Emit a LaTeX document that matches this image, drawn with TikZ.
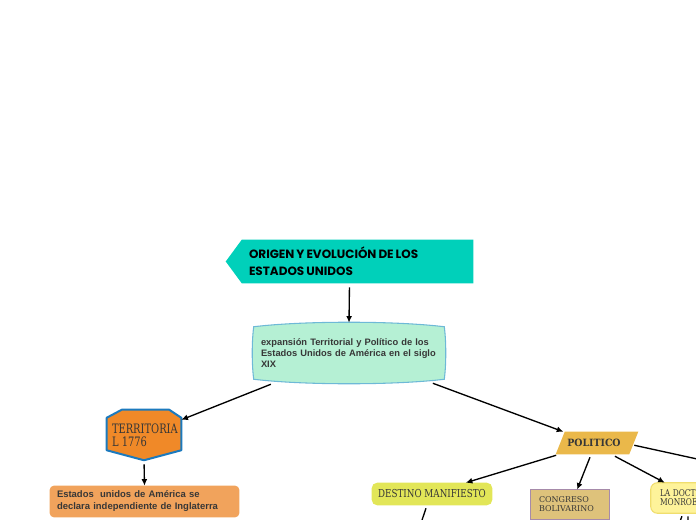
\documentclass[tikz,border=0pt]{standalone}
\usepackage{graphicx}
\usepackage{fontspec}
\setmainfont{Liberation Sans}
\newfontfamily\headfont{Poppins}
\newfontfamily\slabfont{DejaVu Serif}
\usetikzlibrary{calc,arrows.meta,backgrounds}
\definecolor{headteal}{RGB}{0,208,186}
\definecolor{mintfill}{RGB}{181,240,212}
\definecolor{mintedge}{RGB}{110,185,215}
\definecolor{hexorange}{RGB}{240,137,40}
\definecolor{hexblue}{RGB}{28,122,190}
\definecolor{salmon}{RGB}{241,163,92}
\definecolor{gold}{RGB}{234,184,74}
\definecolor{lime}{RGB}{226,230,88}
\definecolor{tan}{RGB}{222,194,123}
\definecolor{mauve}{RGB}{166,138,170}
\definecolor{paleyellow}{RGB}{254,243,154}
\definecolor{paleedge}{RGB}{240,222,110}
\definecolor{darkgray}{RGB}{55,55,55}
\tikzset{
  link/.style={line width=1pt, -{Latex[length=5pt,width=4.5pt]}},
  stub/.style={line width=1pt},
  textbox/.style={inner sep=0pt, align=left, text=darkgray},
}
\begin{document}
\begin{tikzpicture}[x=0.75pt,y=-0.75pt]
        \useasboundingbox (0,0) rectangle (696,520);
        \clip (0,0) rectangle (696,520);
        % nodes holding the texts
        \node[textbox, text=black, minimum width=185.25pt, minimum height=32.25pt, text width=150.75pt,
              font=\headfont\bfseries\fontsize{9}{12.75}\selectfont] (title) at (349.5,261.5)
              {\scalebox{1}[1]{ORIGEN\,Y\,EVOLUCIÓN\,DE\,LOS}\\\scalebox{1}[1]{ESTADOS\,UNIDOS}};
        \node[textbox, minimum width=142.5pt, minimum height=45pt, text width=136pt,
              font=\bfseries\fontsize{7}{8.25}\selectfont] (expansion) at (349,353)
              {\hspace*{2pt}expansión Territorial y Político de los\\\hspace*{2pt}Estados Unidos de América en el siglo\\\hspace*{2pt}XIX};
        \node[textbox, minimum width=55.5pt, minimum height=37.5pt, text width=48pt,
              font=\slabfont\fontsize{9.75}{9.75}\selectfont] (territorial) at (144,435)
              {\scalebox{0.76}[1]{TERRITORIA}\\\scalebox{0.76}[1]{L 1776}};
        \node[textbox, minimum width=141.75pt, minimum height=23.25pt, text width=131.25pt,
              font=\bfseries\fontsize{7.1}{9}\selectfont] (independence) at (144.5,501.5)
              {Estados~ unidos de América se\\declara independiente de Inglaterra};
        \node[textbox, minimum width=60pt, minimum height=16.5pt,
              font=\slabfont\bfseries\fontsize{7.5}{9}\selectfont] (politico) at (594,443)
              {\scalebox{0.94}[1]{POLITICO}};
        \node[textbox, minimum width=90pt, minimum height=16.5pt,
              font=\slabfont\fontsize{8.2}{9}\selectfont] (destino) at (432,494)
              {\scalebox{0.8}[1]{DESTINO MANIFIESTO}};
        \node[textbox, minimum width=58.5pt, minimum height=21.75pt, text width=46.5pt,
              font=\slabfont\fontsize{6}{6.75}\selectfont] (congreso) at (570,504.5)
              {CONGRESO\\BOLIVARINO};
        \node[textbox, minimum width=75pt, minimum height=22.5pt, text width=61.5pt,
              font=\slabfont\fontsize{7}{6.75}\selectfont] (monroe) at (701,498)
              {\scalebox{0.8}[1]{LA DOCTRINA}\\\scalebox{0.8}[1]{MONROE}};
        % free ends of the connectors leaving the picture
        \coordinate (offright)   at (720,464);
        \coordinate (destinoout) at (418,532);
        \coordinate (monroeoutA) at (677,530);
        \coordinate (monroeoutB) at (688,530);
        % drawing the shapes behind the texts
        \begin{scope}[on background layer]
          \fill[headteal] (title.west) -- ($(title.north west)+(16,0)$) -- (title.north east)
                -- (title.south east) -- ($(title.south west)+(16,0)$) -- cycle;
          \filldraw[fill=mintfill, draw=mintedge, line width=0.8pt]
                ($(expansion.north west)+(0,4)$)
                .. controls ($(expansion.north west)+(50,-2)$) and ($(expansion.north east)+(-50,-2)$) .. ($(expansion.north east)+(0,4)$)
                .. controls ($(expansion.east)+(2,-12)$) and ($(expansion.east)+(2,12)$) .. ($(expansion.south east)+(0,-4)$)
                .. controls ($(expansion.south east)+(-50,2)$) and ($(expansion.south west)+(50,2)$) .. ($(expansion.south west)+(0,-4)$)
                .. controls ($(expansion.west)+(-2,12)$) and ($(expansion.west)+(-2,-12)$) .. cycle;
          \filldraw[fill=hexorange, draw=hexblue, line width=1.5pt, line join=round]
                ($(territorial.north west)+(0,8)$) -- ($(territorial.north west)+(15,0)$)
                -- ($(territorial.north east)+(-12,0)$) -- ($(territorial.north east)+(0,8)$)
                -- ($(territorial.south east)+(0,-10)$) -- (territorial.south)
                -- ($(territorial.south west)+(0,-10)$) -- cycle;
          \fill[salmon, rounded corners=3pt] (independence.north west) rectangle (independence.south east);
          \fill[gold] ($(politico.north west)+(11,0)$) -- ($(politico.north east)+(4,0)$)
                -- ($(politico.south east)+(-5,0)$) -- ($(politico.south west)+(2,0)$) -- cycle;
          \fill[lime, rounded corners=4pt] (destino.north west) rectangle (destino.south east);
          \filldraw[fill=tan, draw=mauve, line width=0.8pt] (congreso.north west) rectangle (congreso.south east);
          \filldraw[fill=paleyellow, draw=paleedge, line width=0.8pt, rounded corners=5pt]
                (monroe.north west) rectangle (monroe.south east);
        \end{scope}
        % drawing the connectors
        \draw[link, shorten <=3pt] (title.south) -- (expansion.north);
        \draw[link] ($(expansion.south west)!0.09!(expansion.south east)+(0,1)$)
                -- ($(territorial.north east)!0.2!(territorial.south east)$);
        \draw[link] ($(expansion.south west)!0.94!(expansion.south east)$)
                -- ($(politico.north west)!0.12!(politico.north east)$);
        \draw[link, shorten <=3pt] (territorial.south) -- (independence.north);
        \draw[link] ($(politico.south west)!0.03!(politico.south east)+(0,1)$)
                -- ($(destino.north west)!0.78!(destino.north east)$);
        \draw[link] ($(politico.south west)!0.45!(politico.south east)+(0,3)$)
                -- ($(congreso.north west)!0.59!(congreso.north east)$);
        \draw[link] ($(politico.south west)!0.76!(politico.south east)+(0,2)$)
                -- ($(monroe.north west)!0.14!(monroe.north east)$);
        \draw[stub] ($(politico.north east)!0.6!(politico.south east)$) -- (offright);
        \draw[stub] ($(destino.south west)!0.45!(destino.south east)+(0,3)$) -- (destinoout);
        \draw[stub] ($(monroe.south west)!0.31!(monroe.south east)+(0,3)$) -- (monroeoutA);
        \draw[stub] ($(monroe.south west)!0.37!(monroe.south east)+(0,3)$) -- (monroeoutB);
      \end{tikzpicture}
\end{document}
